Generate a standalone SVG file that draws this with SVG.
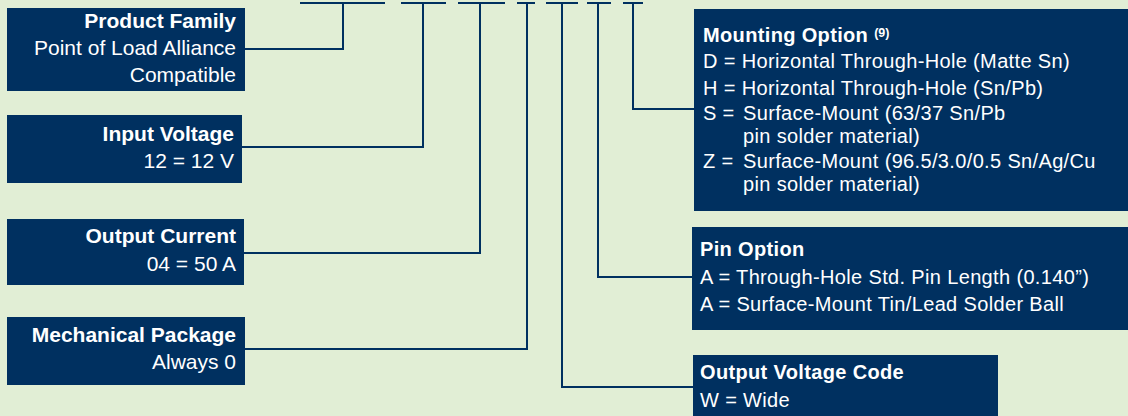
<svg xmlns="http://www.w3.org/2000/svg" width="1128" height="416" viewBox="0 0 1128 416">
<style>
.bg{fill:#e1eed5}
.box{fill:#003060}
.ln{fill:none;stroke:#003060;stroke-width:2}
.lt{font-family:"Liberation Sans",Arial,sans-serif;font-size:21px;fill:#ffffff;text-anchor:end}
.lb{font-weight:bold}
.rt{font-family:"Liberation Sans",Arial,sans-serif;font-size:20px;fill:#ffffff;letter-spacing:0.35px}
.sup{font-size:12.5px;font-weight:bold;letter-spacing:0}
</style>
<rect class="bg" x="0" y="0" width="1128" height="416"/>
<g id="connectors">
<path class="ln" d="M300,3H385"/>
<path class="ln" d="M401,3H446"/>
<path class="ln" d="M458,3H505"/>
<path class="ln" d="M517,3H535"/>
<path class="ln" d="M546,3H578"/>
<path class="ln" d="M587,3H611"/>
<path class="ln" d="M623,3H643"/>
<path class="ln" d="M244,49H343V3"/>
<path class="ln" d="M242,147H423V3"/>
<path class="ln" d="M244,253H480V3"/>
<path class="ln" d="M245,349H527V3"/>
<path class="ln" d="M693,387H562V3"/>
<path class="ln" d="M692,277H598V3"/>
<path class="ln" d="M694,109H633V3"/>
</g>
<g id="product-family">
<rect class="box" x="7" y="8" width="238" height="83"/>
<text class="lt lb" x="236" y="28">Product Family</text>
<text class="lt" x="236" y="55">Point of Load Alliance</text>
<text class="lt" x="236" y="82">Compatible</text>
</g>
<g id="input-voltage">
<rect class="box" x="7" y="115" width="235" height="68"/>
<text class="lt lb" x="234" y="141">Input Voltage</text>
<text class="lt" x="234" y="168">12 = 12 V</text>
</g>
<g id="output-current">
<rect class="box" x="7" y="219" width="237" height="66"/>
<text class="lt lb" x="236" y="243">Output Current</text>
<text class="lt" x="236" y="271">04 = 50 A</text>
</g>
<g id="mechanical-package">
<rect class="box" x="7" y="317" width="238" height="68"/>
<text class="lt lb" x="236" y="342">Mechanical Package</text>
<text class="lt" x="236" y="369">Always 0</text>
</g>
<g id="mounting-option">
<rect class="box" x="694" y="9" width="434" height="202"/>
<text class="rt" x="703" y="42"><tspan font-weight="bold">Mounting Option</tspan><tspan class="sup" dx="6" dy="-5">(9)</tspan></text>
<text class="rt" x="703" y="68">D = Horizontal Through-Hole (Matte Sn)</text>
<text class="rt" x="703" y="95">H = Horizontal Through-Hole (Sn/Pb)</text>
<text class="rt" x="703" y="120">S =</text>
<text class="rt" x="743" y="120">Surface-Mount (63/37 Sn/Pb</text>
<text class="rt" x="743" y="143">pin solder material)</text>
<text class="rt" x="703" y="168">Z =</text>
<text class="rt" x="743" y="168">Surface-Mount (96.5/3.0/0.5 Sn/Ag/Cu</text>
<text class="rt" x="743" y="191">pin solder material)</text>
</g>
<g id="pin-option">
<rect class="box" x="692" y="227" width="436" height="103"/>
<text class="rt" x="700" y="256" font-weight="bold">Pin Option</text>
<text class="rt" x="700" y="284">A = Through-Hole Std. Pin Length (0.140”)</text>
<text class="rt" x="700" y="311">A = Surface-Mount Tin/Lead Solder Ball</text>
</g>
<g id="output-voltage-code">
<rect class="box" x="693" y="355" width="305" height="61"/>
<text class="rt" x="700" y="379" font-weight="bold">Output Voltage Code</text>
<text class="rt" x="700" y="407">W = Wide</text>
</g>
</svg>
